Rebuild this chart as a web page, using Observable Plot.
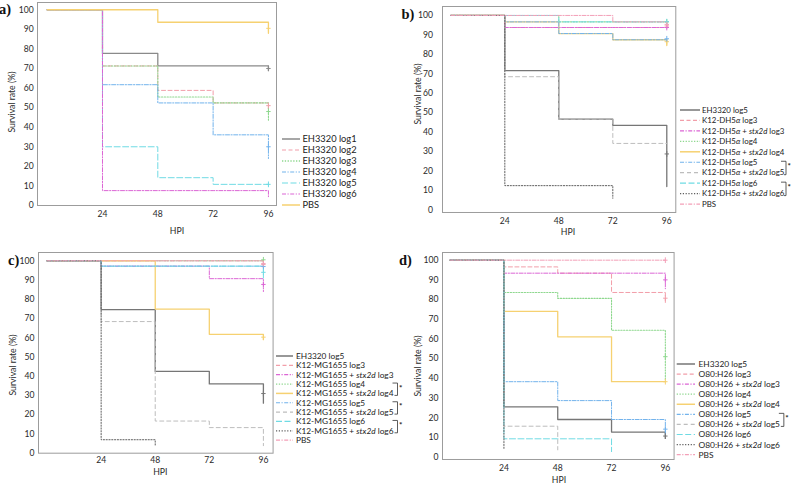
<!DOCTYPE html>
<html><head><meta charset="utf-8">
<script src="https://cdn.jsdelivr.net/npm/d3@7"></script>
<script src="https://cdn.jsdelivr.net/npm/@observablehq/plot@0.6"></script>
<style>
html,body{margin:0;padding:0;background:#fff;}
#root{position:relative;width:793px;height:483px;overflow:hidden;font-family:Lato,"Open Sans",sans-serif;}
#overlay{position:absolute;left:0;top:0;}
</style></head><body><div id="root"></div>
<script>
// ---------------- DATA ----------------
const stepHours = [0, 24, 48, 72];          // survival value holds from each of these hours
const hpiTicks = [24, 48, 72, 96];
const survivalTicks = [0, 10, 20, 30, 40, 50, 60, 70, 80, 90, 100];

// Panel a
const aLabels = ["EH3320 log1", "EH3320 log2", "EH3320 log3", "EH3320 log4", "EH3320 log5", "EH3320 log6", "PBS"];
const aSurvival = [
  [100, 77.7, 71.3, 71.3],
  [100, 71.3, 58.8, 52.4],
  [100, 71.3, 55.4, 52.4],
  [100, 61.7, 52.4, 36.1],
  [100, 30.0, 14.2, 10.8],
  [100, 7.6, 7.6, 7.6],
  [100, 100, 93.6, 93.6]
];
const aLastHour = [96, 96, 96, 96, 96, 96, 96];
const aEndValue = [69, 49.5, 43, 24, 10.5, 4.5, 88];
const aCensor = [70, 51, 48, 30, 10.8, null, 90.5];

// Panel b
const bLabels = ["EH3320 log5", "K12-DH5α log3", "K12-DH5α + stx2d log3", "K12-DH5α log4", "K12-DH5α + stx2d log4",
  "K12-DH5α log5", "K12-DH5α + stx2d log5", "K12-DH5α log6", "K12-DH5α + stx2d log6", "PBS"];
const bSurvival = [
  [100, 71.6, 46.7, 43.5],
  [100, 93.8, 93.8, 93.8],
  [100, 93.8, 93.8, 93.8],
  [100, 100, 96.7, 96.7],
  [100, 96.7, 90.7, 87.5],
  [100, 96.7, 90.7, 87.5],
  [100, 68.5, 46.7, 34.2],
  [100, 100, 96.7, 96.7],
  [100, 12.5, 12.5],
  [100, 100, 100, 96.7]
];
const bLastHour = [96, 96, 96, 96, 96, 96, 96, 96, 72, 96];
const bEndValue = [12, 93.8, 93.8, 96.7, 84.5, 87.5, 34.2, 96.7, 6, 94];
const bCensor = [28.8, 94.6, 93.8, 96.7, 86.5, 88, null, 96.8, null, 95.4];

// Panel c
const cLabels = ["EH3320 log5", "K12-MG1655 log3", "K12-MG1655 + stx2d log3", "K12-MG1655 log4", "K12-MG1655 + stx2d log4",
  "K12-MG1655 log5", "K12-MG1655 + stx2d log5", "K12-MG1655 log6", "K12-MG1655 + stx2d log6", "PBS"];
const cSurvival = [
  [100, 74.6, 42.5, 36.0],
  [100, 100, 100, 100],
  [100, 97.2, 97.2, 90.7],
  [100, 100, 100, 100],
  [100, 100, 74.9, 61.8],
  [100, 97.2, 97.2, 97.2],
  [100, 68.4, 16.7, 13.3],
  [100, 97.2, 97.2, 97.2],
  [100, 7.0],
  [100, 100, 100, 100]
];
const cLastHour = [96, 96, 96, 96, 96, 96, 96, 96, 48, 96];
const cEndValue = [26, 96.5, 84, 100, 59, 97.2, 3.9, 91, 3.5, 97];
const cCensor = [31, 98, 87.7, 100.5, 60.3, 97, null, 94, null, 98.6];

// Panel d
const dLabels = ["EH3320 log5", "O80:H26 log3", "O80:H26 + stx2d log3", "O80:H26 log4", "O80:H26 + stx2d log4",
  "O80:H26 log5", "O80:H26 + stx2d log5", "O80:H26 log6", "O80:H26 + stx2d log6", "PBS"];
const dSurvival = [
  [100, 25.5, 19.1, 12.7],
  [100, 96.6, 93.4, 83.6],
  [100, 93.4, 93.4, 93.4],
  [100, 83.6, 80.6, 64.4],
  [100, 74.0, 61.1, 38.3],
  [100, 38.3, 28.7, 19.1],
  [100, 15.7],
  [100, 9.3, 9.3],
  [100],
  [100, 100, 100, 100]
];
const dLastHour = [96, 96, 96, 96, 96, 96, 48, 72, 24, 96];
const dEndValue = [9.5, 78, 85.5, 38.3, 38.3, 11.5, 3.7, 2.8, 4.2, 100];
const dCensor = [10.7, 80.7, 90, 51, 38.3, 14.2, null, null, null, 100];

// significance brackets (pairs of legend rows)
const bPairs = [[5, 6], [7, 8]];
const cPairs = [[3, 4], [5, 6], [7, 8]];
const dPairs = [[5, 6]];

// ---------------- STYLES ----------------
const STYLES = {
  graySolid:      {color: "#8a8a8a", dash: null, w: 1.3},
  darkSolid:      {color: "#767676", dash: null, w: 1.3},
  pinkDash:       {color: "#f29ea9", dash: "4,2.5", w: 1},
  greenDot:       {color: "#8fd88f", dash: "1.3,1.5", w: 1.1},
  blueDashDot:    {color: "#72b3ec", dash: "4,1.5,1.2,1.5", w: 1},
  cyanDash:       {color: "#6fdbe4", dash: "6,2.5", w: 1},
  magentaDashDot: {color: "#dc66d5", dash: "4,1.5,1.2,1.5", w: 1},
  yellowSolid:    {color: "#f6d171", dash: null, w: 1.3},
  grayDash:       {color: "#bdbdbd", dash: "4,3", w: 1},
  darkDot:        {color: "#5e5e5e", dash: "1.2,1.6", w: 1},
  pinkDashDot:    {color: "#f3a0b8", dash: "4,1.5,1.2,1.5", w: 1}
};
const aStyleKeys = ["graySolid", "pinkDash", "greenDot", "blueDashDot", "cyanDash", "magentaDashDot", "yellowSolid"];
const bcdStyleKeys = ["darkSolid", "pinkDash", "magentaDashDot", "greenDot", "yellowSolid", "blueDashDot", "grayDash", "cyanDash", "darkDot", "pinkDashDot"];

const plusSymbol = {
  draw(ctx, size) {
    const r = Math.sqrt(size / Math.PI);
    ctx.moveTo(-r * 0.85, 0); ctx.lineTo(r * 0.85, 0);
    ctx.moveTo(0, -r * 1.1); ctx.lineTo(0, r * 1.1);
  }
};

const panels = [
  {letter: "a)", labels: aLabels, survival: aSurvival, lastHour: aLastHour, endValue: aEndValue, censor: aCensor, keys: aStyleKeys, pairs: [],
   frame: [37, 2, 276, 205], xDomain: [-4.2, 99.5], yDomain: [0, 103.7], padX: 5, padY: 3.7,
   letterPos: [-1, 14], yLab: [11, 102], xLab: [177, 230],
   legend: {x0: 282, x1: 300, tx: 302.5, y0: 139, dy: 11, fs: 9.3}},
  {letter: "b)", labels: bLabels, survival: bSurvival, lastHour: bLastHour, endValue: bEndValue, censor: bCensor, keys: bcdStyleKeys, pairs: bPairs,
   frame: [441.7, 6, 675, 212], xDomain: [-3.7, 100], yDomain: [-1.3, 104.6], padX: 5, padY: 9.5,
   letterPos: [401.5, 18.5], yLab: [417.5, 94], xLab: [568, 231],
   legend: {x0: 680, x1: 700, tx: 702, y0: 110, dy: 10.45, fs: 7.9}},
  {letter: "c)", labels: cLabels, survival: cSurvival, lastHour: cLastHour, endValue: cEndValue, censor: cCensor, keys: bcdStyleKeys, pairs: cPairs,
   frame: [37.7, 251.7, 272.3, 452.4], xDomain: [-3.8, 100.3], yDomain: [0, 104.3], padX: 4, padY: 4,
   letterPos: [8, 265], yLab: [12.5, 365], xLab: [160.3, 471],
   legend: {x0: 276, x1: 293, tx: 296, y0: 356, dy: 9.35, fs: 8.3}},
  {letter: "d)", labels: dLabels, survival: dSurvival, lastHour: dLastHour, endValue: dEndValue, censor: dCensor, keys: bcdStyleKeys, pairs: dPairs,
   frame: [441.7, 252.3, 673.3, 459.3], xDomain: [-3.4, 99.9], yDomain: [-1.2, 103.9], padX: 5.5, padY: 4,
   letterPos: [399, 265], yLab: [417.7, 366], xLab: [559, 479],
   legend: {x0: 676.7, x1: 695, tx: 698.5, y0: 364, dy: 10.07, fs: 8.4}}
];

// ---------------- DRAW ----------------
const root = document.getElementById("root");
const FONT = "Lato, 'Open Sans', sans-serif";

function stepPoints(surv, last, end) {
  const pts = surv.map((s, i) => ({h: stepHours[i], s}));
  pts.push({h: last, s: surv[surv.length - 1]});
  pts.push({h: last, s: end});
  return pts;
}

panels.forEach(p => {
  const [fx0, fy0, fx1, fy1] = p.frame;
  const mL = 45, mR = 6, mT = 8, mB = 30;
  const marks = [Plot.frame({stroke: "#9c9c9c", strokeWidth: 1})];
  p.labels.forEach((name, i) => {
    const st = STYLES[p.keys[i]];
    marks.push(Plot.line(stepPoints(p.survival[i], p.lastHour[i], p.endValue[i]), {
      x: "h", y: "s", curve: "step-after", stroke: st.color, strokeWidth: st.w,
      strokeDasharray: st.dash || undefined
    }));
  });
  p.labels.forEach((name, i) => {
    if (p.censor[i] == null) return;
    const st = STYLES[p.keys[i]];
    marks.push(Plot.dot([{h: p.lastHour[i], s: p.censor[i]}], {
      x: "h", y: "s", symbol: plusSymbol, r: 2.6, fill: "none", stroke: st.color, strokeWidth: 1
    }));
  });
  const chart = Plot.plot({
    width: fx1 - fx0 + mL + mR,
    height: fy1 - fy0 + mT + mB,
    marginLeft: mL, marginRight: mR, marginTop: mT, marginBottom: mB,
    style: {fontFamily: FONT, fontSize: "8.6px", color: "#2a2a2a", background: "transparent", overflow: "visible"},
    x: {domain: p.xDomain, ticks: hpiTicks, tickSize: 0, tickPadding: p.padX, label: null},
    y: {domain: p.yDomain, ticks: survivalTicks, tickSize: 0, tickPadding: p.padY, label: null},
    marks
  });
  chart.style.position = "absolute";
  chart.style.left = (fx0 - mL) + "px";
  chart.style.top = (fy0 - mT) + "px";
  root.appendChild(chart);
});

// overlay: panel letters, axis titles, legends, brackets
const svg = d3.select(root).append("svg").attr("id", "overlay")
  .attr("width", 793).attr("height", 483)
  .style("font-family", FONT);

function richText(sel, label) {
  label.split(/(stx2d|α)/).forEach(part => {
    if (!part) return;
    const t = sel.append("tspan").text(part);
    if (part === "stx2d" || part === "α") t.attr("font-style", "italic");
  });
}

panels.forEach(p => {
  svg.append("text").attr("x", p.letterPos[0]).attr("y", p.letterPos[1])
    .attr("font-family", "'Liberation Serif', 'DejaVu Serif', serif").attr("font-weight", "bold")
    .attr("font-size", 14.5).attr("fill", "#111").text(p.letter);
  svg.append("text")
    .attr("transform", `translate(${p.yLab[0]},${p.yLab[1]}) rotate(-90)`)
    .attr("text-anchor", "middle").attr("dominant-baseline", "central")
    .attr("font-size", 8.7).attr("fill", "#2a2a2a").text("Survival rate (%)");
  svg.append("text").attr("x", p.xLab[0]).attr("y", p.xLab[1])
    .attr("text-anchor", "middle").attr("dominant-baseline", "central")
    .attr("font-size", 8.7).attr("fill", "#2a2a2a").text("HPI");

  const L = p.legend;
  const ends = [];
  p.labels.forEach((name, i) => {
    const y = L.y0 + i * L.dy;
    const st = STYLES[p.keys[i]];
    svg.append("line").attr("x1", L.x0).attr("x2", L.x1).attr("y1", y).attr("y2", y)
      .attr("stroke", st.color).attr("stroke-width", st.w + 0.2)
      .attr("stroke-dasharray", st.dash || null);
    const t = svg.append("text").attr("x", L.tx).attr("y", y).attr("dy", "0.35em")
      .attr("font-size", L.fs).attr("fill", "#222");
    richText(t, name);
    ends.push(L.tx + t.node().getComputedTextLength());
  });
  p.pairs.forEach(([i, j]) => {
    const yTop = L.y0 + i * L.dy - 1;
    const yBot = L.y0 + j * L.dy + 2;
    const right = Math.min(Math.max(ends[i], ends[j]) + 4, 786);
    svg.append("path")
      .attr("d", `M${right - 5},${yTop}H${right}V${yBot}H${Math.min(ends[j] + 1, right - 2)}`)
      .attr("fill", "none").attr("stroke", "#333").attr("stroke-width", 0.8);
    svg.append("text").attr("x", right + 1.5).attr("y", (yTop + yBot) / 2 + 1.5)
      .attr("font-size", 8).attr("font-weight", "bold").attr("fill", "#222").text("*");
  });
});
</script>
</body></html>
